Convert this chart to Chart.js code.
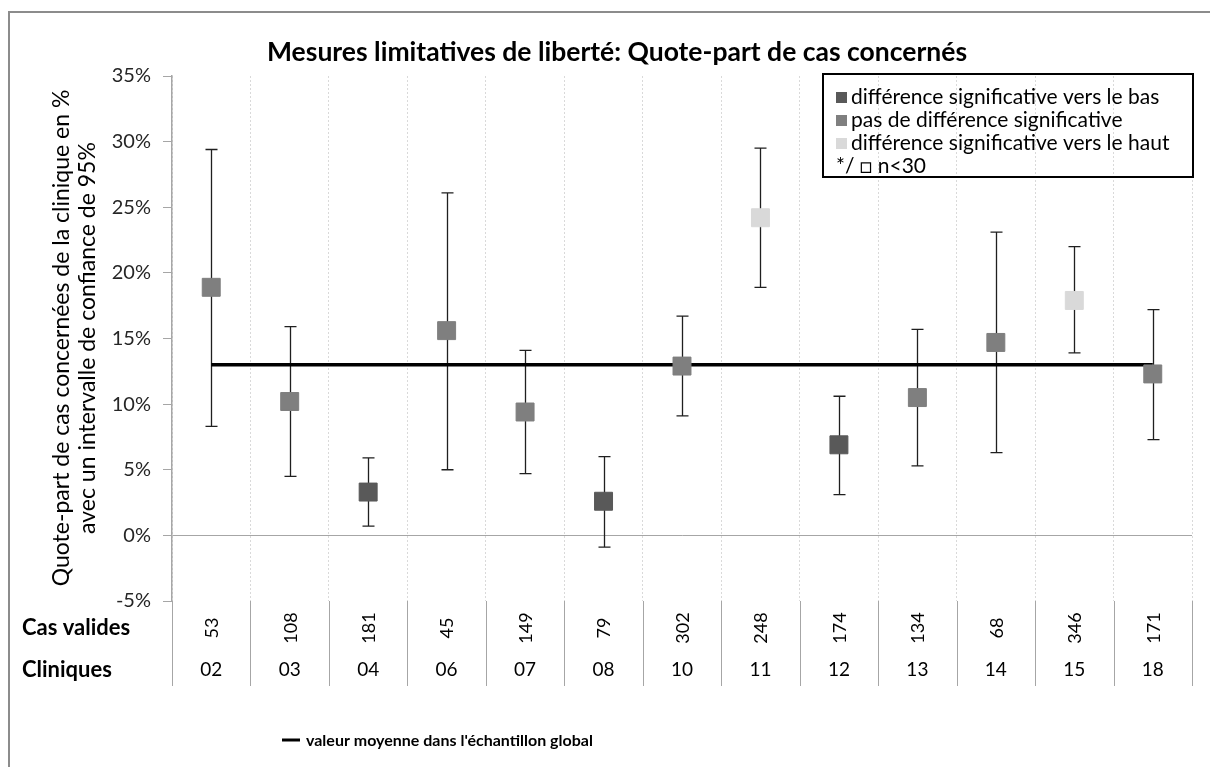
<!DOCTYPE html>
<html lang="fr">
<head>
<meta charset="UTF-8">
<title>Mesures limitatives de liberté</title>
<script src="https://cdn.jsdelivr.net/npm/chart.js@4"></script>
<style>
  html,body{margin:0;padding:0;background:#fff;}
  .wrap{position:relative;width:1210px;height:767px;overflow:hidden;}
  .frame{position:absolute;left:8px;top:11px;width:1230px;height:800px;border:2px solid #8c8c8c;box-sizing:border-box;}
  #chart{position:absolute;left:0;top:0;}
</style>
</head>
<body>
<div class="wrap">
  <div class="frame"></div>
  <canvas id="chart" width="1210" height="767"></canvas>
</div>
<script>
// données
const cliniques = ['02','03','04','06','07','08','10','11','12','13','14','15','18'];
const casValides = [53,108,181,45,149,79,302,248,174,134,68,346,171];
const quotePart = [18.9,10.2,3.3,15.6,9.4,2.6,12.9,24.2,6.9,10.5,14.7,17.9,12.3];
const borneInf  = [8.3,4.5,0.7,5.0,4.7,-0.9,9.1,18.9,3.1,5.3,6.3,13.9,7.3];
const borneSup  = [29.4,15.9,5.9,26.1,14.1,6.0,16.7,29.5,10.6,15.7,23.1,22.0,17.2];
const signif    = ['pas','pas','bas','pas','pas','bas','pas','haut','bas','pas','pas','haut','pas'];
const moyenne = 13.0;
const yMin = -5, yMax = 35, yStep = 5;

const couleurs = {bas:'#595959', pas:'#7f7f7f', haut:'#d9d9d9'};
const legendeItems = [
  ['bas','différence significative vers le bas'],
  ['pas','pas de différence significative'],
  ['haut','différence significative vers le haut']
];
const FONT = 'Lato, "Open Sans", sans-serif';

// barres d'erreur (IC 95%)
const errorBars = {
  id:'errorBars',
  beforeDatasetsDraw(chart){
    const {ctx, scales:{x, y}} = chart;
    ctx.save();
    ctx.strokeStyle = '#1f1f1f';
    ctx.lineWidth = 1.3;
    borneInf.forEach((lo,i)=>{
      const px = Math.round(x.getPixelForValue(i)) + 0.5;
      const y1 = y.getPixelForValue(lo), y2 = y.getPixelForValue(borneSup[i]);
      ctx.beginPath();
      ctx.moveTo(px,y1); ctx.lineTo(px,y2);
      ctx.moveTo(px-6,y1); ctx.lineTo(px+6,y1);
      ctx.moveTo(px-6,y2); ctx.lineTo(px+6,y2);
      ctx.stroke();
    });
    ctx.restore();
  }
};

// titre, légendes et tableau sous l'axe
const decor = {
  id:'decor',
  afterDraw(chart){
    const {ctx, chartArea:a, scales:{x}} = chart;
    ctx.save();
    ctx.fillStyle = '#000';
    ctx.textBaseline = 'middle';

    ctx.font = 'bold 26.5px ' + FONT;
    ctx.textAlign = 'center';
    ctx.fillText('Mesures limitatives de liberté: Quote-part de cas concernés', 617, 52);

    // titre axe y
    ctx.save();
    ctx.translate(0, 338);
    ctx.rotate(-Math.PI/2);
    ctx.font = '23px ' + FONT;
    ctx.fillText('Quote-part de cas concernées de la clinique en %', 0, 62);
    ctx.fillText('avec un intervalle de confiance de 95%', 0, 88);
    ctx.restore();

    // tableau
    const n = cliniques.length, w = (a.right - a.left) / n;
    ctx.strokeStyle = '#a6a6a6';
    ctx.lineWidth = 1;
    for (let i = 0; i <= n; i++) {
      const bx = Math.round(a.left + i*w) + 0.5;
      ctx.beginPath(); ctx.moveTo(bx, a.bottom); ctx.lineTo(bx, 686); ctx.stroke();
    }
    ctx.textAlign = 'left';
    ctx.font = 'bold 22px ' + FONT;
    ctx.fillText('Cas valides', 22, 628);
    ctx.fillText('Cliniques', 22, 670);
    cliniques.forEach((c,i)=>{
      const px = x.getPixelForValue(i);
      ctx.save();
      ctx.translate(px + 1, 628);
      ctx.rotate(-Math.PI/2);
      ctx.textAlign = 'center';
      ctx.font = '18px ' + FONT;
      ctx.fillText(String(casValides[i]), 0, 0);
      ctx.restore();
      ctx.textAlign = 'center';
      ctx.font = '19px ' + FONT;
      ctx.fillText(c, px, 670);
    });

    // légende
    ctx.lineWidth = 2;
    ctx.strokeStyle = '#000';
    ctx.strokeRect(823, 74, 370, 103);
    ctx.textAlign = 'left';
    ctx.font = '21px ' + FONT;
    legendeItems.forEach(([k,t],j)=>{
      const ly = 97 + j*23;
      ctx.fillStyle = couleurs[k];
      ctx.fillRect(836, ly-5, 11, 11);
      ctx.fillStyle = '#000';
      ctx.fillText(t, 851, ly);
    });
    ctx.fillText('*/ \u25A1 n<30', 836, 166);

    // légende moyenne
    ctx.lineWidth = 3;
    ctx.beginPath(); ctx.moveTo(282, 740); ctx.lineTo(300, 740); ctx.stroke();
    ctx.font = 'bold 16px ' + FONT;
    ctx.fillText("valeur moyenne dans l'échantillon global", 306, 741);
    ctx.restore();
  }
};

new Chart(document.getElementById('chart'), {
  type:'line',
  data:{
    labels: cliniques,
    datasets:[
      {
        label:'Quote-part',
        data: quotePart,
        showLine:false,
        pointStyle:'rect',
        pointRadius:12.7,
        pointBackgroundColor: signif.map(s=>couleurs[s]),
        pointBorderColor: signif.map(s=>couleurs[s]),
        pointBorderWidth:1,
        order:0
      },
      {
        label:"valeur moyenne dans l'échantillon global",
        data: cliniques.map(()=>moyenne),
        borderColor:'#000',
        borderWidth:3.5,
        pointRadius:0,
        order:1
      }
    ]
  },
  options:{
    responsive:false,
    animation:false,
    events:[],
    layout:{padding:{top:76, left:0, right:18, bottom:166}},
    plugins:{legend:{display:false}, tooltip:{enabled:false}, title:{display:false}},
    scales:{
      x:{
        type:'category',
        offset:true,
        grid:{offset:true, color:'#d9d9d9', drawTicks:false},
        border:{display:false, dash:[2,2]},
        ticks:{display:false},
        afterFit(s){ s.height = 0; }
      },
      y:{
        min:yMin, max:yMax,
        afterFit(s){ s.width = 172; },
        ticks:{stepSize:yStep, padding:12, color:'#262626', font:{family:FONT, size:20},
               callback:v=>v+'%'},
        grid:{
          color:c=>(c.tick && c.tick.value===0) ? '#a6a6a6' : 'rgba(0,0,0,0)',
          tickColor:'#a6a6a6', tickLength:9, lineWidth:1
        },
        border:{color:'#a6a6a6', width:1.5}
      }
    }
  },
  plugins:[errorBars, decor]
});
</script>
</body>
</html>
